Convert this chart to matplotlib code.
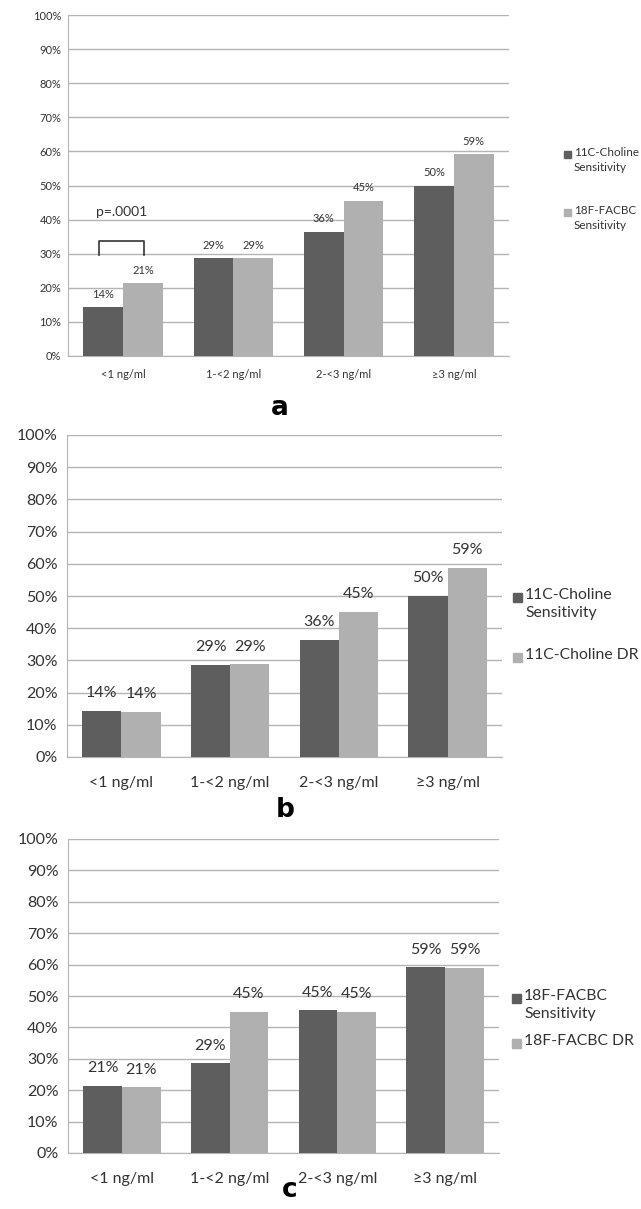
import numpy as np
import matplotlib
matplotlib.use("Agg")
import matplotlib.pyplot as plt

plt.rcParams['font.family'] = ['Lato', 'DejaVu Sans']

categories = ['<1 ng/ml', '1-<2 ng/ml', '2-<3 ng/ml', '≥3 ng/ml']

# panel a
a_choline_sens = [14.3, 28.6, 36.4, 50.0]
a_facbc_sens = [21.4, 28.6, 45.5, 59.1]
a_labels1 = ['14%', '29%', '36%', '50%']
a_labels2 = ['21%', '29%', '45%', '59%']

# panel b
b_choline_sens = [14.3, 28.6, 36.4, 50.0]
b_choline_dr = [14.0, 28.8, 45.0, 58.8]
b_labels1 = ['14%', '29%', '36%', '50%']
b_labels2 = ['14%', '29%', '45%', '59%']

# panel c
c_facbc_sens = [21.4, 28.6, 45.5, 59.1]
c_facbc_dr = [21.0, 45.0, 45.0, 59.0]
c_labels1 = ['21%', '29%', '45%', '59%']
c_labels2 = ['21%', '45%', '45%', '59%']

dark = '#5e5e5e'
light = '#b0b0b0'
gridc = '#b4b4b4'
W, H = 641, 1209

fig = plt.figure(figsize=(W / 100, H / 100), dpi=100)


def panel(rect, v1, v2, l1, l2, names, fs, lab_off, leg_xy, leg_fs, leg_gap, sq):
    ax = fig.add_axes(rect)
    x = np.arange(len(categories))
    w = 0.36
    ax.bar(x - w / 2, v1, w, color=dark, zorder=3)
    ax.bar(x + w / 2, v2, w, color=light, zorder=3)
    for xi, v, t in zip(x - w / 2, v1, l1):
        ax.text(xi, v + lab_off, t, ha='center', va='bottom', fontsize=fs, color='#333333')
    for xi, v, t in zip(x + w / 2, v2, l2):
        ax.text(xi, v + lab_off, t, ha='center', va='bottom', fontsize=fs, color='#333333')
    ax.set_xlim(-0.5, 3.5)
    ax.set_ylim(0, 100)
    ax.set_yticks(np.arange(0, 101, 10))
    ax.set_yticklabels([f'{t}%' for t in range(0, 101, 10)], fontsize=fs, color='#333333')
    ax.set_xticks(x)
    ax.set_xticklabels(categories, fontsize=fs, color='#333333')
    ax.tick_params(axis='both', length=0, pad=fs * 1.2)
    ax.tick_params(axis='y', pad=fs * 0.6)
    ax.grid(axis='y', color=gridc, linewidth=1.0, zorder=0)
    for s in ['top', 'right']:
        ax.spines[s].set_visible(False)
    ax.spines['left'].set_color(gridc)
    ax.spines['bottom'].set_color(gridc)
    ax.set_axisbelow(True)
    # legend drawn as squares + text
    lx, ly = leg_xy
    fpx = leg_fs * 100 / 72
    for i, (nm, c) in enumerate(zip(names, [dark, light])):
        yy = ly + i * leg_gap
        cy = yy + fpx * 0.62
        fig.patches.append(plt.Rectangle((lx / W, (H - cy - sq / 2) / H), sq / W, sq / H,
                                         transform=fig.transFigure, color=c, figure=fig))
        fig.text((lx + sq + 3) / W, (H - yy) / H, nm, fontsize=leg_fs, va='top', color='#333333',
                 linespacing=1.4)
    return ax


ax_a = panel([68 / W, (H - 356) / H, 441 / W, 341 / H], a_choline_sens, a_facbc_sens,
             a_labels1, a_labels2, ['11C-Choline\nSensitivity', '18F-FACBC\nSensitivity'],
             8, 2.2, (564, 147), 8.4, 58, 7)
# p-value bracket
ax_a.plot([-0.22, -0.22, 0.19, 0.19], [29.5, 33.7, 33.7, 29.5], color='#333333', lw=1.2, zorder=4)
ax_a.text(-0.015, 40.5, 'p=.0001', ha='center', va='bottom', fontsize=10, color='#333333')

panel([67 / W, (H - 757) / H, 435 / W, 322 / H], b_choline_sens, b_choline_dr,
      b_labels1, b_labels2, ['11C-Choline\nSensitivity', '11C-Choline DR'],
      11.5, 3.3, (513, 588), 11.3, 60, 9)

panel([68 / W, (H - 1153) / H, 431 / W, 314 / H], c_facbc_sens, c_facbc_dr,
      c_labels1, c_labels2, ['18F-FACBC\nSensitivity', '18F-FACBC DR'],
      11.5, 3.3, (512, 989), 11.3, 45, 9)

fig.text(280 / W, (H - 408) / H, 'a', fontsize=19, fontweight='bold', ha='center', va='center',
         family='DejaVu Sans')
fig.text(285 / W, (H - 810) / H, 'b', fontsize=19, fontweight='bold', ha='center', va='center',
         family='DejaVu Sans')
fig.text(290 / W, (H - 1190) / H, 'c', fontsize=19, fontweight='bold', ha='center', va='center',
         family='DejaVu Sans')

fig.savefig('out.png', dpi=100)
